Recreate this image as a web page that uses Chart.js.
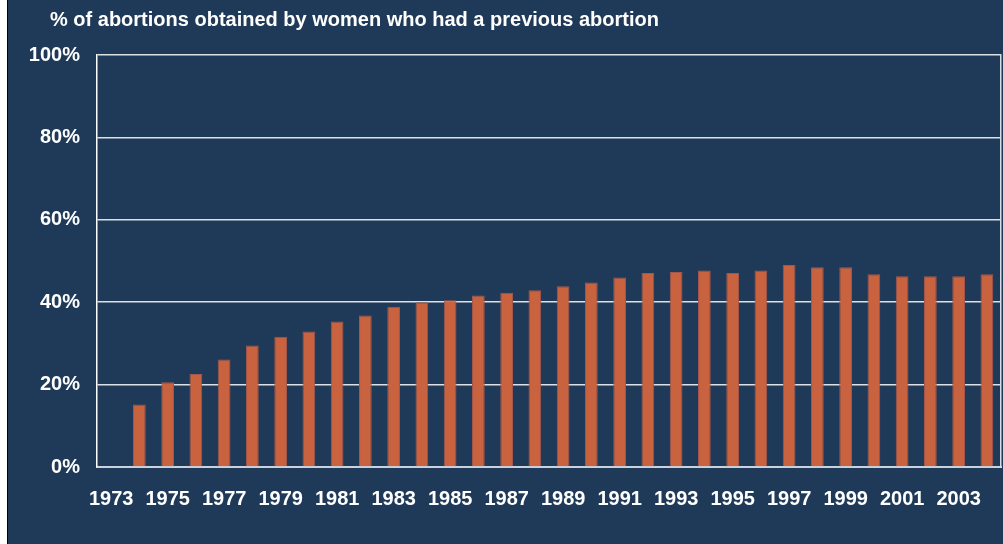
<!DOCTYPE html>
<html>
<head>
<meta charset="utf-8">
<title>Repeat abortions</title>
<script src="https://cdn.jsdelivr.net/npm/chart.js@4"></script>
<style>
    html, body { margin: 0; padding: 0; background: #ffffff; }
    #frame {
        position: absolute;
        left: 7px;
        top: 0;
        width: 995px;
        height: 544px;
        border-left: 1px solid #000000;
        background: #1f3a58;
    }
    #chart { display: block; }
    #title {
        position: absolute;
        left: 42px;
        top: 7px;
        margin: 0;
        color: #ffffff;
        font: bold 20px "Liberation Sans", Arial, sans-serif;
        line-height: 24px;
        white-space: nowrap;
    }
</style>
</head>
<body>
<div id="frame">
    <canvas id="chart" width="995" height="544"></canvas>
    <h1 id="title">% of abortions obtained by women who had a previous abortion</h1>
</div>
<script>
// data
const years = ['1973', '1974', '1975', '1976', '1977', '1978', '1979', '1980',
    '1981', '1982', '1983', '1984', '1985', '1986', '1987', '1988',
    '1989', '1990', '1991', '1992', '1993', '1994', '1995', '1996',
    '1997', '1998', '1999', '2000', '2001', '2002', '2003', '2004'];
const repeatShare = [null, 15.2, 20.6, 22.6, 26.1, 29.5, 31.6, 32.9,
    35.3, 36.8, 38.9, 40.0, 40.5, 41.6, 42.3, 42.9,
    43.9, 44.8, 46.0, 47.1, 47.3, 47.7, 47.1, 47.7,
    49.0, 48.5, 48.5, 46.8, 46.3, 46.3, 46.3, 46.8];
const yTicks = [0, 20, 40, 60, 80, 100];

const font = { family: '"Liberation Sans", Arial, sans-serif', size: 20, weight: 'bold' };

document.addEventListener('DOMContentLoaded', function() {
    new Chart(document.getElementById('chart'), {
        type: 'bar',
        data: {
            labels: years,
            datasets: [{
                label: '% of abortions obtained by women who had a previous abortion',
                data: repeatShare,
                backgroundColor: '#c9623f',
                borderColor: '#a4574a',
                borderWidth: 1,
                barPercentage: 0.45,
                categoryPercentage: 1
            }]
        },
        options: {
            responsive: false,
            animation: false,
            layout: { padding: { left: 0, right: 2, top: 55, bottom: 0 } },
            plugins: {
                legend: { display: false },
                tooltip: { enabled: false },
                title: { display: false }
            },
            scales: {
                x: {
                    afterFit: (scale) => { scale.height = 77; },
                    grid: { display: false },
                    border: { display: true, color: '#c9d2dd', width: 2 },
                    ticks: {
                        color: '#ffffff',
                        font: font,
                        padding: 12,
                        autoSkip: false,
                        maxRotation: 0,
                        callback: function(value, index) {
                            return index % 2 === 0 ? this.getLabelForValue(value) : '';
                        }
                    }
                },
                y: {
                    min: 0,
                    max: 100,
                    afterFit: (scale) => { scale.width = 89; },
                    afterBuildTicks: (scale) => { scale.ticks = yTicks.map(v => ({ value: v })); },
                    grid: { color: 'rgba(255,255,255,0.85)', lineWidth: 1.5, drawTicks: false },
                    border: { display: true, color: '#ffffff', width: 1.5 },
                    ticks: {
                        color: '#ffffff',
                        font: font,
                        padding: 17,
                        callback: (v) => v + '%'
                    }
                },
                yRight: {
                    position: 'right',
                    min: 0,
                    max: 100,
                    afterFit: (scale) => { scale.width = 0; },
                    grid: { display: false, drawTicks: false },
                    border: { display: true, color: '#d5dbe3', width: 1.5 },
                    ticks: { display: false }
                }
            }
        }
    });
});
</script>
</body>
</html>
